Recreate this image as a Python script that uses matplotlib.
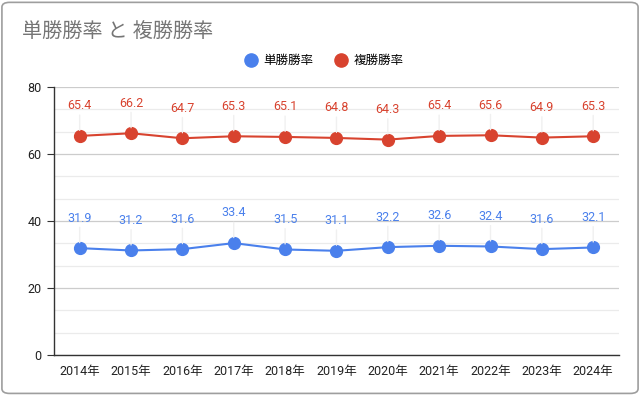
import numpy as np
import matplotlib
matplotlib.use('Agg')
import matplotlib.pyplot as plt
from matplotlib.patches import FancyBboxPatch
from matplotlib.lines import Line2D
from matplotlib.ticker import MultipleLocator

plt.rcParams['font.family'] = ['Roboto', 'Noto Sans CJK JP', 'DejaVu Sans']

years = ['2014年', '2015年', '2016年', '2017年', '2018年', '2019年',
         '2020年', '2021年', '2022年', '2023年', '2024年']
win_rate = [31.9, 31.2, 31.6, 33.4, 31.5, 31.1, 32.2, 32.6, 32.4, 31.6, 32.1]
place_rate = [65.4, 66.2, 64.7, 65.3, 65.1, 64.8, 64.3, 65.4, 65.6, 64.9, 65.3]

blue = '#4a80ec'
red = '#d8432f'

fig = plt.figure(figsize=(6.4, 3.95), dpi=100)
fig.patches.append(FancyBboxPatch((0.003, 0.004), 0.994, 0.99,
                                  boxstyle='round,pad=0,rounding_size=0.012',
                                  transform=fig.transFigure, fill=False,
                                  edgecolor='#9e9e9e', linewidth=1.2))

ax = fig.add_axes([0.0844, 0.1013, 0.8826, 0.6784])
x = np.arange(len(years))

for vals, col in [(win_rate, blue), (place_rate, red)]:
    ax.plot(x, vals, color=col, linewidth=1.5, marker='o', markersize=8.5,
            zorder=3)
    for xi, v in zip(x, vals):
        ax.annotate(f'{v}', (xi, v), xytext=(0, 17), textcoords='offset points',
                    ha='center', va='bottom', color=col, fontsize=9,
                    arrowprops=dict(arrowstyle='-', color='#f0f0f0', lw=1,
                                    shrinkA=0, shrinkB=4))

ax.set_xlim(-0.5, len(years) - 0.5)
ax.set_ylim(0, 80)
ax.set_xticks(x)
ax.set_xticklabels(years)
ax.yaxis.set_major_locator(MultipleLocator(20))
ax.yaxis.set_minor_locator(MultipleLocator(20 / 3))
ax.grid(axis='y', which='major', color='#cccccc', linewidth=0.9)
ax.grid(axis='y', which='minor', color='#ebebeb', linewidth=0.9)
ax.set_axisbelow(True)
ax.tick_params(axis='y', which='major', length=5, color='#333333',
               labelsize=9, labelcolor='#222222', pad=4)
ax.tick_params(axis='y', which='minor', length=0)
ax.tick_params(axis='x', length=0, labelsize=9, labelcolor='#222222', pad=7)
for s in ['top', 'right']:
    ax.spines[s].set_visible(False)
for s in ['left', 'bottom']:
    ax.spines[s].set_color('#333333')
    ax.spines[s].set_linewidth(1)

fig.text(0.034, 0.905, '単勝勝率 と 複勝勝率', fontsize=14.5, color='#757575',
         ha='left', va='baseline')

handles = [Line2D([], [], linestyle='none', marker='o', markersize=9.5,
                  color=blue),
           Line2D([], [], linestyle='none', marker='o', markersize=9.5,
                  color=red)]
fig.legend(handles, ['単勝勝率', '複勝勝率'], loc='center',
           bbox_to_anchor=(0.505, 0.847), ncol=2, frameon=False, fontsize=9,
           handletextpad=0.4, columnspacing=1.6, handlelength=1.2)

fig.savefig('out.png', dpi=100)
